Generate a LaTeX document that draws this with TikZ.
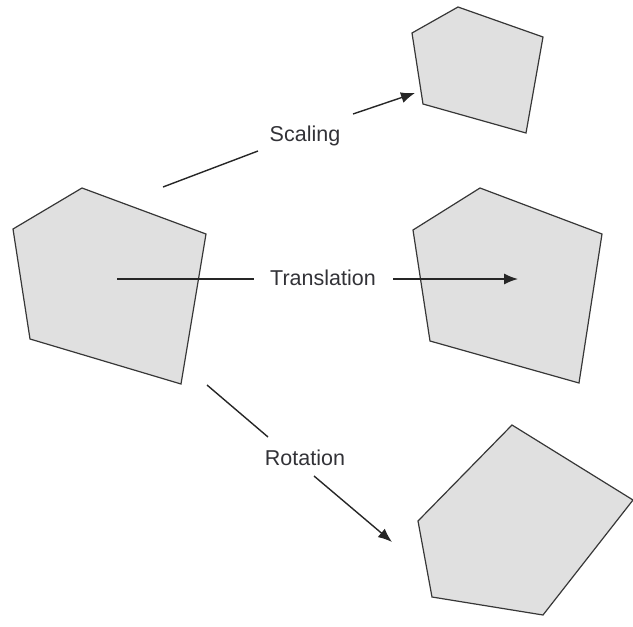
\documentclass[tikz,border=0pt]{standalone}
\usepackage{fontspec}
\setmainfont{Liberation Sans}
\usetikzlibrary{arrows.meta}
\definecolor{shapefill}{RGB}{224,224,224}
\definecolor{shapeedge}{RGB}{55,55,55}
\definecolor{labeltext}{RGB}{50,50,55}
\tikzset{
  poly/.style={fill=shapefill, draw=shapeedge, line width=1.2pt, line join=miter},
  conn/.style={draw=black!85, line width=1.4pt},
  head/.style={conn, -{Latex[length=14pt,width=11pt]}},
  lbl/.style={font=\fontsize{21.5}{24}\selectfont, text=labeltext, inner sep=0pt}
}
\begin{document}
\begin{tikzpicture}[x=1pt,y=-1pt]
\useasboundingbox (0,0) rectangle (633,627);

% original pentagon
\draw[poly] (13,229) -- (82,188) -- (206,234) -- (181,384) -- (30,339) -- cycle;
% scaled copy
\draw[poly] (412,33) -- (458,7) -- (543,37) -- (526,133) -- (423,104) -- cycle;
% translated copy
\draw[poly] (413,230) -- (480,188) -- (602,234) -- (579,383) -- (430,341) -- cycle;
% rotated copy
\draw[poly] (418,521) -- (512,425) -- (633,500) -- (543,615) -- (432,597) -- cycle;

% labels
\node[lbl] (scl) at (305,136) {Scaling};
\node[lbl] (trn) at (323,278) {Translation};
\node[lbl] (rot) at (305,458) {Rotation};

% connector end points
\coordinate (s0) at (163,187);
\coordinate (s1) at (258,151);
\coordinate (s2) at (353,114);
\coordinate (s3) at (415,93);
\coordinate (t0) at (117,279);
\coordinate (t1) at (254,279);
\coordinate (t2) at (393,279);
\coordinate (t3) at (518,279);
\coordinate (r0) at (207,385);
\coordinate (r1) at (268,437);
\coordinate (r2) at (314,476);
\coordinate (r3) at (392,542);

\draw[conn] (s0) -- (s1);
\draw[head] (s2) -- (s3);
\draw[conn] (t0) -- (t1);
\draw[head] (t2) -- (t3);
\draw[conn] (r0) -- (r1);
\draw[head] (r2) -- (r3);
\end{tikzpicture}
\end{document}
